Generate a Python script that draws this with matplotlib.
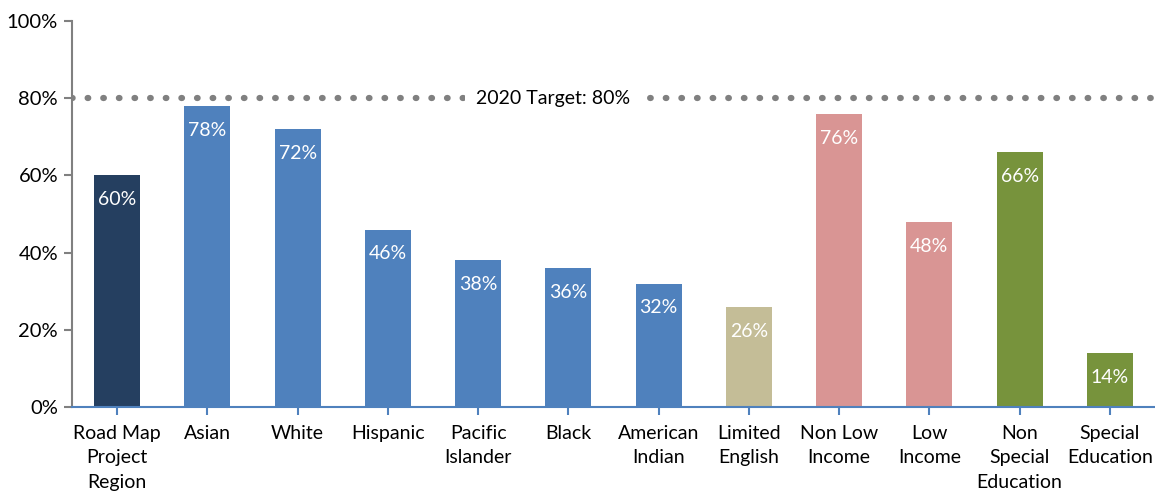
import matplotlib.pyplot as plt

categories = ['Road Map\nProject\nRegion', 'Asian', 'White', 'Hispanic', 'Pacific\nIslander',
              'Black', 'American\nIndian', 'Limited\nEnglish', 'Non Low\nIncome', 'Low\nIncome',
              'Non\nSpecial\nEducation', 'Special\nEducation']
values = [60, 78, 72, 46, 38, 36, 32, 26, 76, 48, 66, 14]
colors = ['#253F60', '#4F81BD', '#4F81BD', '#4F81BD', '#4F81BD', '#4F81BD', '#4F81BD',
          '#C4BD97', '#D99594', '#D99594', '#77933C', '#77933C']
target = 80
target_label = '2020 Target: 80%'

plt.rcParams['font.family'] = ['Lato', 'DejaVu Sans']

fig = plt.figure(figsize=(11.55, 4.91), dpi=100)
ax = fig.add_axes([0.0623, 0.171, 0.9377, 0.786])

x = range(len(categories))
ax.bar(x, values, width=0.51, color=colors, zorder=2)

for i, v in enumerate(values):
    ax.annotate(f'{v}%', (i, v), xytext=(0, -17.5), textcoords='offset points',
                ha='center', va='center', color='white', fontsize=14)

ax.axhline(target, color='#808080', linestyle=(0, (0.1, 2.4)), linewidth=4.5,
           dash_capstyle='round', zorder=1)
ax.text(4.83, target, target_label, ha='center', va='center', fontsize=14,
        bbox=dict(facecolor='white', edgecolor='none', pad=8), zorder=3)

ax.set_xlim(-0.5, len(categories) - 0.5)
ax.set_ylim(0, 100)
ax.set_yticks(range(0, 101, 20))
ax.set_yticklabels([f'{t}%' for t in range(0, 101, 20)], fontsize=14.5)
ax.set_xticks(list(x))
ax.set_xticklabels(categories, fontsize=14, linespacing=1.52)

for s in ['top', 'right']:
    ax.spines[s].set_visible(False)
ax.spines['left'].set_color('#808080')
ax.spines['left'].set_linewidth(1.5)
ax.spines['bottom'].set_color('#4F81BD')
ax.spines['bottom'].set_linewidth(1.5)
ax.tick_params(axis='y', colors='#808080', labelcolor='black', length=6, width=1.5, pad=4)
ax.tick_params(axis='x', colors='#4F81BD', labelcolor='black', length=6, width=1.5, pad=7)

fig.savefig('out.png', dpi=100)
